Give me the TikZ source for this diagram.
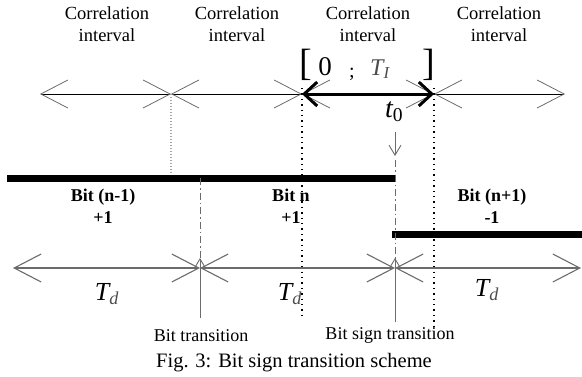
\documentclass[tikz,border=0pt]{standalone}
\usepackage{fontspec}
\setmainfont{Liberation Serif}
\usepackage{xcolor}
\usetikzlibrary{arrows.meta}
\definecolor{linegray}{gray}{0.42}

\begin{document}
\begin{tikzpicture}[x=1pt,y=-1pt,
  axis/.style={<->, >={Straight Barb[length=27pt,width=28pt,color=linegray]},
               line width=0.8pt},
  lowaxis/.style={axis, draw=linegray, line width=1.1pt},
  bigarr/.style={<->, >={Straight Barb[length=13pt,width=24pt]}, line width=3pt},
  bitline/.style={line width=7pt},
  trans/.style={linegray, line width=1pt, dash pattern=on 7pt off 3pt on 1.5pt off 3pt},
  dots/.style={line width=1.4pt, dash pattern=on 1.4pt off 4pt},
  pointer/.style={->, >={Straight Barb[length=10pt,width=12pt]}, linegray, line width=0.9pt},
  lbl/.style={font=\fontsize{18.5}{22}\selectfont, align=center, inner sep=0pt},
  bit/.style={font=\fontsize{18}{22}\selectfont\bfseries, align=center, inner sep=0pt},
  dur/.style={font=\fontsize{26}{28}\selectfont\itshape, inner sep=0pt, anchor=base},
  note/.style={font=\fontsize{18}{20}\selectfont, inner sep=0pt, anchor=base},
]
\useasboundingbox (0,0) rectangle (582,376);

\foreach \x [count=\i] in {40,171,302,434,565} \coordinate (c\i) at (\x,94);
\foreach \i/\j in {1/2,2/3,3/4,4/5} \draw[axis] (c\i)--(c\j);
\draw[bigarr] (c3)--(c4);

\node[lbl,anchor=north] (ci1) at (107,6) {Correlation\\interval};
\node[lbl,anchor=north] (ci2) at (237,6) {Correlation\\interval};
\node[lbl,anchor=north] (ci3) at (368,6) {Correlation\\interval};
\node[lbl,anchor=north] (ci4) at (499,6) {Correlation\\interval};

\node[inner sep=0pt,anchor=base,font=\fontsize{38}{40}\selectfont] (lbr) at (306,75) {[};
\node[inner sep=0pt,anchor=base,font=\fontsize{27}{28}\selectfont] (zero) at (325,75) {0};
\node[inner sep=0pt,anchor=base,font=\fontsize{20}{22}\selectfont] (semi) at (352,77) {;};
\node[inner sep=0pt,anchor=base west,font=\fontsize{24}{26}\selectfont\itshape,text=black!70] (tint) at (370,75) {T\textsubscript{I}};
\node[inner sep=0pt,anchor=base,font=\fontsize{38}{40}\selectfont] (rbr) at (429,75) {]};
\node[inner sep=0pt,anchor=base west,font=\fontsize{28}{30}\selectfont\itshape] (tzero) at (385,117) {t\textsubscript{\upshape 0}};

\coordinate (p1) at (171,176);
\coordinate (p2) at (302,318);
\coordinate (p3) at (434,326);
\draw[dots,linegray!60,dash pattern=on 1pt off 2pt] (c2)--(p1);
\draw[dots] ([yshift=6pt]c3)--(p2);
\draw[dots] ([yshift=6pt]c4)--(p3);

\coordinate (b1) at (7,178);
\coordinate (b2) at (395,178);
\coordinate (b3) at (392,234);
\coordinate (b4) at (582,234);
\draw[bitline] (b1)--(b2);
\draw[bitline] (b3)--(b4);

\foreach \x [count=\i] in {13,200,395,581} \coordinate (d\i) at (\x,268);
\foreach \i/\j in {1/2,2/3,3/4} \draw[lowaxis] (d\i)--(d\j);

\coordinate (t1) at (200,178);
\coordinate (t2) at (395,160);
\draw[trans] (t1)--(d2);
\draw[trans] (t2)--(d3);

\coordinate (s0) at (395,132);
\coordinate (s1) at (395,156);
\draw[pointer] (s0)--(s1);

\node[bit,anchor=north] (bprev) at (103,189) {Bit (n-1)\\+1};
\node[bit,anchor=north] (bcur)  at (291,189) {Bit n\\+1};
\node[bit,anchor=north] (bnext) at (492,189) {Bit (n+1)\\-1};

\node[dur] (td1) at (107,300) {T\textsubscript{\color{black!70}d}};
\node[dur] (td2) at (290,300) {T\textsubscript{\color{black!70}d}};
\node[dur] (td3) at (487,296) {T\textsubscript{\color{black!70}d}};

\node[note] (nbt) at (201,341) {Bit transition};
\node[note] (nbs) at (390,339) {Bit sign transition};
\coordinate (u1) at (200,318);
\coordinate (u2) at (395,322);
\draw[pointer] (u1)--([yshift=10pt]d2);
\draw[pointer] (u2)--([yshift=10pt]d3);

\node[note,font=\fontsize{20.5}{22}\selectfont] (cap) at (294,367) {Fig. 3: Bit sign transition scheme};
\end{tikzpicture}
\end{document}
